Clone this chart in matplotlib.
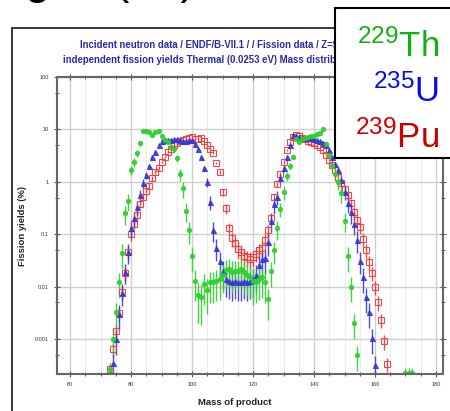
import matplotlib
matplotlib.use("Agg")
import matplotlib.pyplot as plt
from matplotlib.patches import Rectangle
from matplotlib.ticker import LogLocator, FixedLocator, MultipleLocator, NullFormatter

plt.rcParams['font.family'] = ['Liberation Sans', 'DejaVu Sans']
plt.rcParams['mathtext.default'] = 'regular'

# --- data (mass number A, yield in %, relative error) ---
th_mass = list(range(73, 155)) + [170, 171, 172]
th_yield = [2.7e-4, 1.0e-3, 3.3e-3, 0.012, 0.044, 0.25, 0.43, 1.7, 2.4, 3.5,
            5.4, 9.5, 9.5, 8.9, 7.7, 8.9, 9.5, 7.5, 6.4, 5.8,
            4.6, 4.3, 2.8, 1.4, 0.75, 0.28, 0.12, 0.038, 0.013, 0.0068,
            0.0063, 0.011, 0.0085, 0.012, 0.012, 0.013, 0.014, 0.017, 0.021, 0.022,
            0.019, 0.02, 0.02, 0.022, 0.019, 0.017, 0.015, 0.013, 0.012, 0.014,
            0.015, 0.012, 0.0057, 0.02, 0.05, 0.13, 0.3, 0.65, 1.3, 2.0,
            3.0, 6.6, 5.8, 6.6, 7.0, 7.2, 7.5, 7.6, 8.0, 8.4,
            10.3, 5.2, 3.2, 2.0, 1.4, 1.0, 0.6, 0.18, 0.038, 0.01,
            0.002, 5e-4, 2.2e-4, 2.2e-4, 2.2e-4]
th_err = [0.3, 0.5, 0.5, 0.5, 0.5, 0.4, 0.35, 0.2, 0.2, 0.15,
          0.1, 0.05, 0.05, 0.05, 0.05, 0.05, 0.05, 0.05, 0.05, 0.05,
          0.05, 0.05, 0.15, 0.25, 0.35, 0.4, 0.45, 0.5, 0.6, 0.7,
          0.7, 0.6, 0.65, 0.6, 0.6, 0.6, 0.6, 0.55, 0.55, 0.55,
          0.6, 0.55, 0.55, 0.55, 0.6, 0.6, 0.6, 0.65, 0.6, 0.6,
          0.6, 0.6, 0.6, 0.5, 0.45, 0.4, 0.3, 0.3, 0.2, 0.15,
          0.1, 0.05, 0.05, 0.05, 0.05, 0.05, 0.05, 0.05, 0.05, 0.05,
          0.05, 0.1, 0.15, 0.2, 0.25, 0.3, 0.35, 0.4, 0.5, 0.5,
          0.5, 0.5, 0.3, 0.3, 0.3]

u_mass = list(range(74, 161))
u_yield = [3.5e-4, 1.0e-3, 3.0e-3, 7.6e-3, 0.019, 0.046, 0.13, 0.2, 0.33, 0.55,
           0.93, 1.35, 2.0, 3.0, 3.7, 5.0, 6.0, 6.2, 6.3, 6.4,
           6.5, 6.5, 6.3, 6.1, 6.0, 6.2, 6.3, 5.3, 4.2, 3.0,
           1.8, 1.0, 0.41, 0.12, 0.055, 0.031, 0.02, 0.014, 0.013, 0.012,
           0.013, 0.012, 0.012, 0.013, 0.012, 0.013, 0.014, 0.017, 0.026, 0.033,
           0.035, 0.07, 0.18, 0.37, 0.52, 1.2, 1.8, 3.0, 5.0, 7.9,
           7.6, 7.2, 7.0, 6.9, 6.8, 6.8, 6.6, 6.3, 6.0, 5.6,
           5.0, 4.0, 3.0, 2.2, 1.7, 1.1, 0.65, 0.39, 0.26, 0.16,
           0.078, 0.031, 0.015, 0.0063, 0.0033, 0.00105, 3.2e-4]
u_err = [0.5, 0.5, 0.5, 0.45, 0.4, 0.4, 0.35, 0.3, 0.3, 0.25,
         0.2, 0.15, 0.1, 0.1, 0.08, 0.05, 0.05, 0.05, 0.05, 0.05,
         0.05, 0.05, 0.05, 0.05, 0.05, 0.05, 0.05, 0.05, 0.05, 0.05,
         0.1, 0.2, 0.3, 0.4, 0.45, 0.5, 0.55, 0.55, 0.55, 0.55,
         0.55, 0.55, 0.55, 0.55, 0.55, 0.55, 0.55, 0.55, 0.55, 0.55,
         0.5, 0.45, 0.4, 0.35, 0.3, 0.2, 0.15, 0.1, 0.05, 0.05,
         0.05, 0.05, 0.05, 0.05, 0.05, 0.05, 0.05, 0.05, 0.05, 0.05,
         0.05, 0.05, 0.05, 0.1, 0.15, 0.2, 0.3, 0.35, 0.4, 0.4,
         0.45, 0.45, 0.5, 0.5, 0.5, 0.5, 0.5]

pu_mass = list(range(73, 165))
pu_yield = [2.7e-4, 6.5e-4, 1.4e-3, 3.2e-3, 8e-3, 0.018, 0.046, 0.1, 0.16, 0.23,
            0.37, 0.52, 0.68, 0.85, 1.17, 1.55, 1.86, 2.4, 3.0, 3.7,
            4.3, 5.0, 5.4, 5.9, 6.3, 6.5, 6.8, 7.1, 6.6, 6.5,
            7.0, 6.0, 5.0, 4.2, 3.5, 2.3, 1.55, 0.63, 0.31, 0.13,
            0.083, 0.069, 0.052, 0.045, 0.038, 0.036, 0.034, 0.036, 0.042, 0.049,
            0.055, 0.079, 0.12, 0.2, 0.52, 0.9, 1.4, 2.4, 4.0, 5.8,
            7.2, 7.7, 7.4, 7.0, 6.6, 6.1, 5.7, 5.4, 5.0, 4.6,
            4.0, 3.3, 2.6, 2.1, 1.65, 1.25, 0.95, 0.72, 0.55, 0.4,
            0.27, 0.19, 0.135, 0.08, 0.05, 0.03, 0.018, 0.01, 0.005, 0.0023,
            9e-4, 3.3e-4]
pu_err = [0.3, 0.3, 0.3, 0.3, 0.3, 0.3, 0.3, 0.25, 0.2, 0.2,
          0.15, 0.15, 0.12, 0.1, 0.1, 0.08, 0.08, 0.05, 0.05, 0.05,
          0.05, 0.05, 0.05, 0.05, 0.05, 0.05, 0.05, 0.05, 0.05, 0.05,
          0.05, 0.05, 0.05, 0.05, 0.05, 0.05, 0.1, 0.15, 0.2, 0.25,
          0.3, 0.3, 0.35, 0.35, 0.35, 0.35, 0.35, 0.35, 0.3, 0.3,
          0.3, 0.25, 0.25, 0.2, 0.15, 0.12, 0.1, 0.08, 0.05, 0.05,
          0.05, 0.05, 0.05, 0.05, 0.05, 0.05, 0.05, 0.05, 0.05, 0.05,
          0.05, 0.05, 0.05, 0.1, 0.1, 0.12, 0.15, 0.15, 0.2, 0.2,
          0.2, 0.25, 0.25, 0.3, 0.3, 0.3, 0.3, 0.3, 0.3, 0.3,
          0.3, 0.3]

y_ticks = [0.001, 0.01, 0.1, 1, 10, 100]
y_tick_labels = ['0.001', '0.01', '0.1', '1', '10', '100']
x_ticks = [60, 80, 100, 120, 140, 160, 180]

title_1 = 'Incident neutron data / ENDF/B-VII.1 / / Fission data / Z=90-94'
title_2 = 'independent fission yields Thermal (0.0253 eV) Mass distribution'
legend_labels = [r'$^{229}$Th', r'$^{235}$U', r'$^{239}$Pu']
legend_colors = ['#12b012', '#0a0aee', '#c80000']

fig = plt.figure(figsize=(4.5, 4.11), dpi=100)
ax = fig.add_axes([57 / 450, 37 / 411, 386 / 450, 297 / 411])


def draw(mass, vals, rel, color, marker, ms, filled):
    err = [v * r for v, r in zip(vals, rel)]
    ax.errorbar(mass, vals, yerr=err, fmt=marker, color=color, ecolor=color,
                elinewidth=1.0, capsize=0, ms=ms, mew=0.8,
                mfc=color if filled else 'none', mec=color, alpha=0.9)


draw(pu_mass, pu_yield, pu_err, '#ee3a3a', 's', 4.3, False)
draw(u_mass, u_yield, u_err, '#3838d0', '^', 3.6, True)
draw(th_mass, th_yield, th_err, '#2ed02e', 'o', 3.0, True)

ax.set_yscale('log')
ax.set_ylim(2.15e-4, 100)
ax.set_xlim(55.7, 182.3)
ax.yaxis.set_major_locator(FixedLocator(y_ticks))
ax.set_yticklabels(y_tick_labels)
ax.yaxis.set_minor_locator(LogLocator(base=10, subs=[5]))
ax.yaxis.set_minor_formatter(NullFormatter())
ax.xaxis.set_major_locator(FixedLocator(x_ticks))
ax.xaxis.set_minor_locator(MultipleLocator(5))

ax.grid(True, which='major', color='#cfcfcf', lw=1.0)
ax.grid(True, which='minor', axis='x', color='#ececec', lw=0.8)
ax.set_axisbelow(True)

for s in ax.spines.values():
    s.set_color('#666666')
    s.set_linewidth(1.5)
ax.tick_params(which='both', direction='inout', top=True, right=True,
               color='#555555', labelsize=4, labelcolor='#333333')
ax.tick_params(which='major', length=4, width=0.8, pad=4)
ax.tick_params(which='minor', length=3, width=0.7)

ax.set_ylabel('Fission yields (%)', fontsize=6.8, fontweight='bold', color='#222222')
ax.yaxis.set_label_coords(-(57 - 27) / 386, 0.5)
fig.text(235 / 450, 1 - 402 / 411, 'Mass of product', fontsize=6.8, fontweight='bold',
         color='#222222', ha='center', va='center')

fig.text(80 / 450, 1 - 45 / 411, title_1, fontsize=6.9, fontweight='bold',
         color='#2a2aa6', ha='left', va='center')
fig.text(63 / 450, 1 - 60 / 411, title_2, fontsize=6.9, fontweight='bold',
         color='#2a2aa6', ha='left', va='center')

# slide title above, cut off by the picture edge (only descenders show)
fig.text(25 / 450, 1 + 7 / 411, 'g of (n,f)', fontsize=33, color='black',
         ha='left', va='baseline')

# panel frame around the chart
fig.patches.append(Rectangle((12 / 450, -0.1), 1.2, 383 / 411 + 0.1, transform=fig.transFigure,
                             fill=False, ec='#2a2a2a', lw=1.3, zorder=0.5))

# isotope legend box
fig.patches.append(Rectangle((335 / 450, 1 - 158 / 411), 0.4, 150 / 411, transform=fig.transFigure,
                             fc='white', ec='black', lw=1.5, zorder=10))
for lab, col, yb in zip(legend_labels, legend_colors, [57, 102, 148]):
    fig.text(439 / 450, 1 - yb / 411, lab, fontsize=25, color=col,
             ha='right', va='baseline', zorder=11)

fig.savefig('out.png', dpi=100, facecolor='white')
